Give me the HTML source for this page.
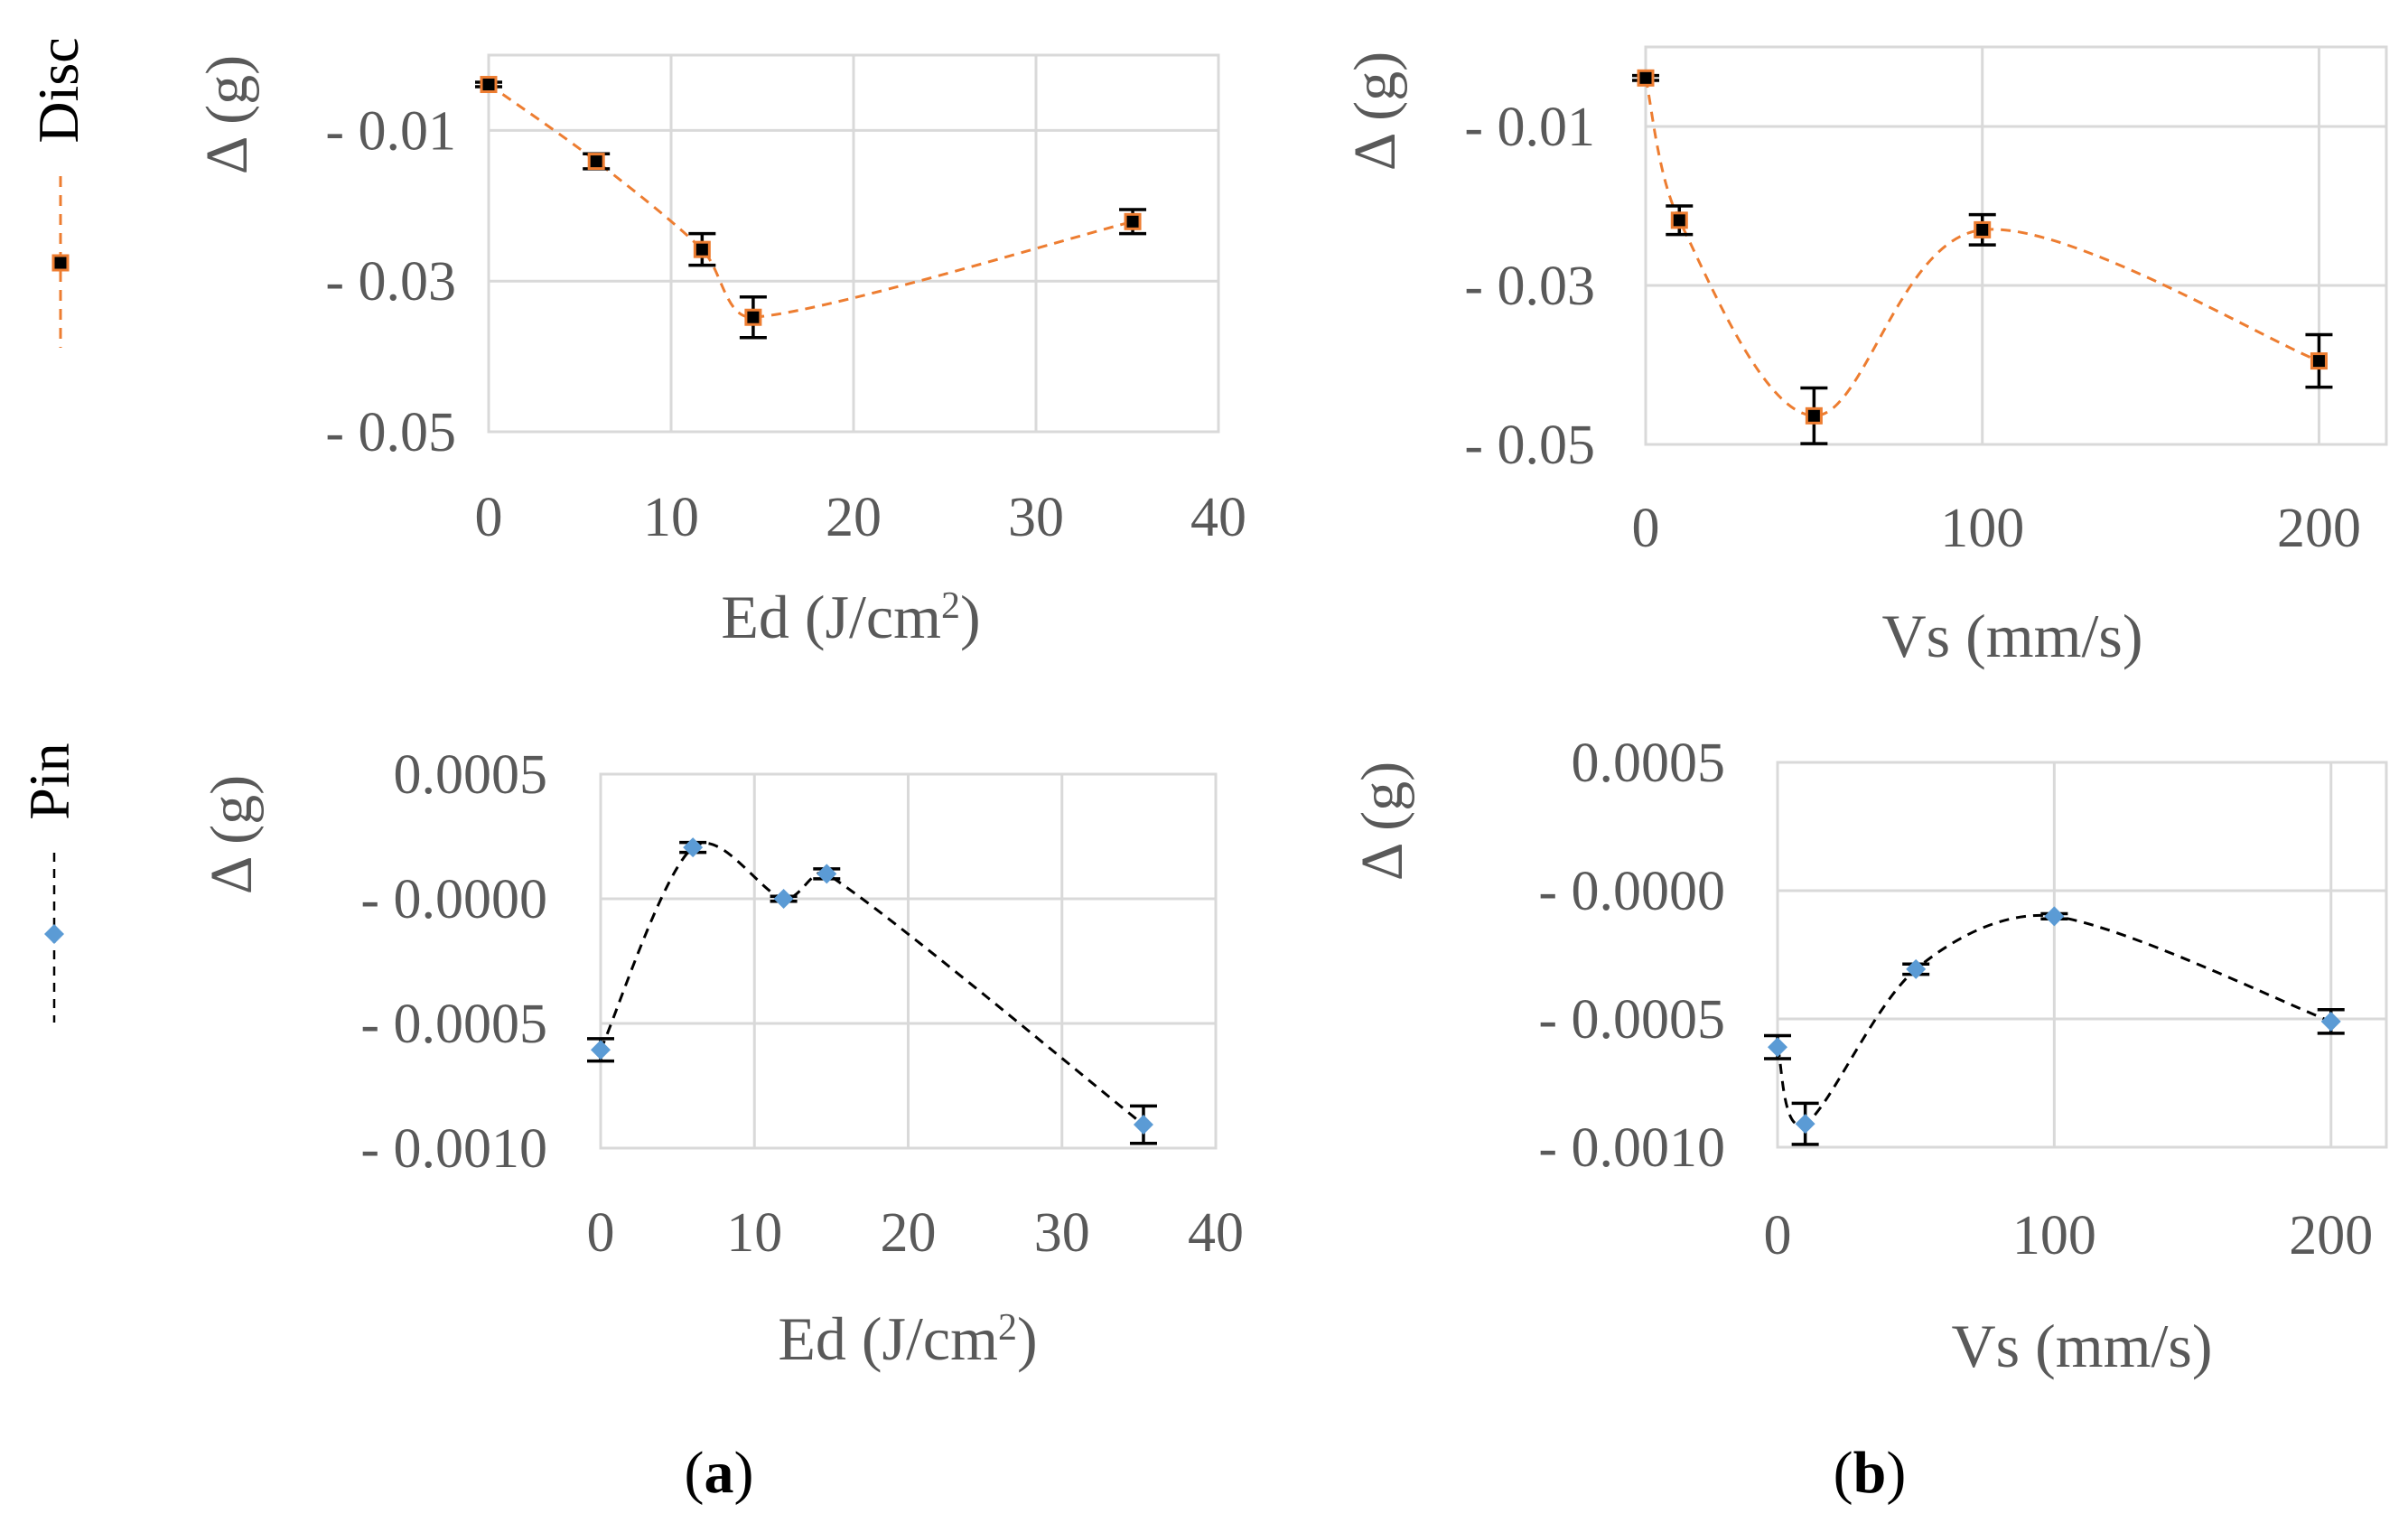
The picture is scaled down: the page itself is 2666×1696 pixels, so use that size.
<!DOCTYPE html>
<html><head><meta charset="utf-8">
<style>
html,body{margin:0;padding:0;background:#fff;}
svg{display:block;}
text{font-family:"Liberation Serif",serif;}
</style></head>
<body>
<svg id="fig" width="2666" height="1696" viewBox="0 0 2666 1696" xmlns="http://www.w3.org/2000/svg">
  <g>
    <text x="0" y="0" transform="translate(86,100) rotate(-90)" text-anchor="middle" font-size="64" fill="#000">Disc</text>
    <line x1="67" y1="195" x2="67" y2="385" stroke="#ED7D31" stroke-width="3" stroke-dasharray="12,9"/>
    <rect x="59" y="283" width="16" height="16" fill="#000" stroke="#ED7D31" stroke-width="3"/>
  </g>
  <g>
    <text x="0" y="0" transform="translate(76,865) rotate(-90)" text-anchor="middle" font-size="64" fill="#000">Pin</text>
    <line x1="60" y1="944" x2="60" y2="1132" stroke="#000" stroke-width="2.5" stroke-dasharray="10,8"/>
    <polygon points="60,1023 71,1034 60,1045 49,1034" fill="#5B9BD5"/>
  </g>
  <text x="796" y="1652" text-anchor="middle" font-size="66" fill="#000">(<tspan font-weight="bold">a</tspan>)</text>
  <text x="2070" y="1652" text-anchor="middle" font-size="66" fill="#000">(<tspan font-weight="bold">b</tspan>)</text>
</svg>
<script>
// ---- Chart data ----
const discEdX = [0, 5.9, 11.7, 14.5, 35.3];
const discEdY = [-0.0039, -0.0141, -0.0258, -0.0348, -0.0221];
const discEdErr = [0.0003, 0.001, 0.0021, 0.0027, 0.0016];
const discEdYTicks = [-0.01, -0.03, -0.05];
const discEdYTickLabels = ["- 0.01", "- 0.03", "- 0.05"];
const discEdXTicks = [0, 10, 20, 30, 40];

const discVsX = [0, 10, 50, 100, 200];
const discVsY = [-0.0039, -0.0218, -0.0464, -0.023, -0.0395];
const discVsErr = [0.0003, 0.0018, 0.0035, 0.0019, 0.0033];
const discVsYTicks = [-0.01, -0.03, -0.05];
const discVsYTickLabels = ["- 0.01", "- 0.03", "- 0.05"];
const discVsXTicks = [0, 100, 200];

const pinEdX = [0, 6.0, 11.9, 14.7, 35.3];
const pinEdY = [-0.000606, 0.000206, 0.0, 0.0001, -0.000906];
const pinEdErr = [0.000045, 0.00002, 0.00001, 0.00002, 0.000075];
const pinEdYTicks = [0.0005, 0.0, -0.0005, -0.001];
const pinEdYTickLabels = ["0.0005", "- 0.0000", "- 0.0005", "- 0.0010"];
const pinEdXTicks = [0, 10, 20, 30, 40];

const pinVsX = [0, 10, 50, 100, 200];
const pinVsY = [-0.00061, -0.000909, -0.000306, -0.0001, -0.00051];
const pinVsErr = [0.000045, 0.00008, 0.00002, 0.00001, 0.000046];
const pinVsYTicks = [0.0005, 0.0, -0.0005, -0.001];
const pinVsYTickLabels = ["0.0005", "- 0.0000", "- 0.0005", "- 0.0010"];
const pinVsXTicks = [0, 100, 200];

const NS = "http://www.w3.org/2000/svg";
const svg = document.getElementById("fig");
function mk(tag, attrs, parent) {
  const e = document.createElementNS(NS, tag);
  for (const k in attrs) e.setAttribute(k, attrs[k]);
  parent.appendChild(e);
  return e;
}
function clampVec(v, maxLen) {
  const l = Math.hypot(v[0], v[1]);
  if (l > maxLen && l > 0) return [v[0] * maxLen / l, v[1] * maxLen / l];
  return v;
}
function smoothPath(pts) {
  let d = "M" + pts[0][0] + "," + pts[0][1];
  for (let i = 0; i < pts.length - 1; i++) {
    const p0 = pts[Math.max(i - 1, 0)], p1 = pts[i], p2 = pts[i + 1], p3 = pts[Math.min(i + 2, pts.length - 1)];
    const seg = Math.hypot(p2[0] - p1[0], p2[1] - p1[1]);
    const v1 = clampVec([(p2[0] - p0[0]) / 6, (p2[1] - p0[1]) / 6], seg / 3);
    const v2 = clampVec([(p3[0] - p1[0]) / 6, (p3[1] - p1[1]) / 6], seg / 3);
    const c1 = [p1[0] + v1[0], p1[1] + v1[1]];
    const c2 = [p2[0] - v2[0], p2[1] - v2[1]];
    d += " C" + c1[0] + "," + c1[1] + " " + c2[0] + "," + c2[1] + " " + p2[0] + "," + p2[1];
  }
  return d;
}
function chart(o) {
  const g = mk("g", {}, svg);
  
  
  const sx = v => o.L + (v - o.xmin) / (o.xmax - o.xmin) * (o.R - o.L);
  const sy = v => o.T + (o.ymax - v) / (o.ymax - o.ymin) * (o.B - o.T);
  o.xTicks.forEach(t => {
    const l = mk("line", {x1: sx(t), x2: sx(t), y1: o.T, y2: o.B, stroke: "#d9d9d9", "stroke-width": 3}, g);
    
    
  });
  o.yTicks.concat([o.ymax]).forEach(t => {
    const l = mk("line", {x1: o.L, x2: o.R, y1: sy(t), y2: sy(t), stroke: "#d9d9d9", "stroke-width": 3}, g);
    
    
  });
  const fr = mk("rect", {x: o.L, y: o.T, width: o.R - o.L, height: o.B - o.T, fill: "none", stroke: "#d9d9d9", "stroke-width": 3}, g);
  
  
  o.yTicks.forEach((t, i) => {
    const tx = mk("text", {x: o.yLabelRight, y: sy(t) + 21, "text-anchor": "end", "font-size": 62, fill: "#595959"}, g);
    tx.textContent = o.yTickLabels[i];
    
    
  });
  o.xTicks.forEach(t => {
    const tx = mk("text", {x: sx(t), y: o.xLabelY + 21, "text-anchor": "middle", "font-size": 62, fill: "#595959"}, g);
    tx.textContent = String(t);
    
    
  });
  const xt = mk("text", {x: o.xTitleX, y: o.xTitleY + 23, "text-anchor": "middle", "font-size": 68, fill: "#595959"}, g);
  xt.innerHTML = o.xTitle;
  
  
  const yt = mk("text", {x: 0, y: 0, transform: "translate(" + (o.yTitleX + 22) + "," + o.yTitleY + ") rotate(-90)", "text-anchor": "middle", "font-size": 66, fill: "#595959"}, g);
  yt.textContent = "Δ (g)";
  
  
  const pts = o.xs.map((x, i) => [sx(x), sy(o.ys[i])]);
  const p = mk("path", {d: smoothPath(pts), fill: "none", stroke: o.lineColor, "stroke-width": 3, "stroke-dasharray": "11,8"}, g);
  
  
  o.xs.forEach((x, i) => {
    const cx = sx(x);
    const y1 = Math.max(sy(o.ys[i] + o.err[i]), o.T), y2 = Math.min(sy(o.ys[i] - o.err[i]), o.B);
    const eg = mk("g", {stroke: "#000", "stroke-width": 3.5}, g);
    
    
    mk("line", {x1: cx, x2: cx, y1: y1, y2: y2}, eg);
    mk("line", {x1: cx - 15, x2: cx + 15, y1: sy(o.ys[i] + o.err[i]), y2: sy(o.ys[i] + o.err[i])}, eg);
    if (sy(o.ys[i] - o.err[i]) <= o.B) mk("line", {x1: cx - 15, x2: cx + 15, y1: sy(o.ys[i] - o.err[i]), y2: sy(o.ys[i] - o.err[i])}, eg);
  });
  pts.forEach(pt => {
    let m;
    if (o.marker === "square") {
      m = mk("rect", {x: pt[0] - 8, y: pt[1] - 8, width: 16, height: 16, fill: "#000", stroke: "#ED7D31", "stroke-width": 3}, g);
    } else {
      m = mk("polygon", {points: (pt[0]) + "," + (pt[1] - 11) + " " + (pt[0] + 11) + "," + pt[1] + " " + pt[0] + "," + (pt[1] + 11) + " " + (pt[0] - 11) + "," + pt[1], fill: "#5B9BD5"}, g);
    }
    
    
  });
}
const edTitle = 'Ed (J/cm<tspan dy="-22" font-size="42">2</tspan><tspan dy="22">)</tspan>';
chart({name: "disc-ed-chart", L: 541, R: 1349, T: 61, B: 478, xmin: 0, xmax: 40, ymin: -0.05, ymax: 0,
  xs: discEdX, ys: discEdY, err: discEdErr, yTicks: discEdYTicks, yTickLabels: discEdYTickLabels, xTicks: discEdXTicks,
  yLabelRight: 505, xLabelY: 572, xTitle: edTitle, xTitleX: 942, xTitleY: 683, yTitleX: 251, yTitleY: 127,
  marker: "square", lineColor: "#ED7D31"});
chart({name: "disc-vs-chart", L: 1822, R: 2642, T: 52, B: 492, xmin: 0, xmax: 220, ymin: -0.05, ymax: 0,
  xs: discVsX, ys: discVsY, err: discVsErr, yTicks: discVsYTicks, yTickLabels: discVsYTickLabels, xTicks: discVsXTicks,
  yLabelRight: 1766, xLabelY: 584, xTitle: "Vs (mm/s)", xTitleX: 2228, xTitleY: 704, yTitleX: 1522, yTitleY: 123,
  marker: "square", lineColor: "#ED7D31"});
chart({name: "pin-ed-chart", L: 665, R: 1346, T: 857, B: 1271, xmin: 0, xmax: 40, ymin: -0.001, ymax: 0.0005,
  xs: pinEdX, ys: pinEdY, err: pinEdErr, yTicks: pinEdYTicks, yTickLabels: pinEdYTickLabels, xTicks: pinEdXTicks,
  yLabelRight: 606, xLabelY: 1364, xTitle: edTitle, xTitleX: 1005, xTitleY: 1482, yTitleX: 256, yTitleY: 924,
  marker: "diamond", lineColor: "#000"});
chart({name: "pin-vs-chart", L: 1968, R: 2642, T: 844, B: 1270, xmin: 0, xmax: 220, ymin: -0.001, ymax: 0.0005,
  xs: pinVsX, ys: pinVsY, err: pinVsErr, yTicks: pinVsYTicks, yTickLabels: pinVsYTickLabels, xTicks: pinVsXTicks,
  yLabelRight: 1910, xLabelY: 1367, xTitle: "Vs (mm/s)", xTitleX: 2305, xTitleY: 1490, yTitleX: 1530, yTitleY: 909,
  marker: "diamond", lineColor: "#000"});
</script>
</body></html>
